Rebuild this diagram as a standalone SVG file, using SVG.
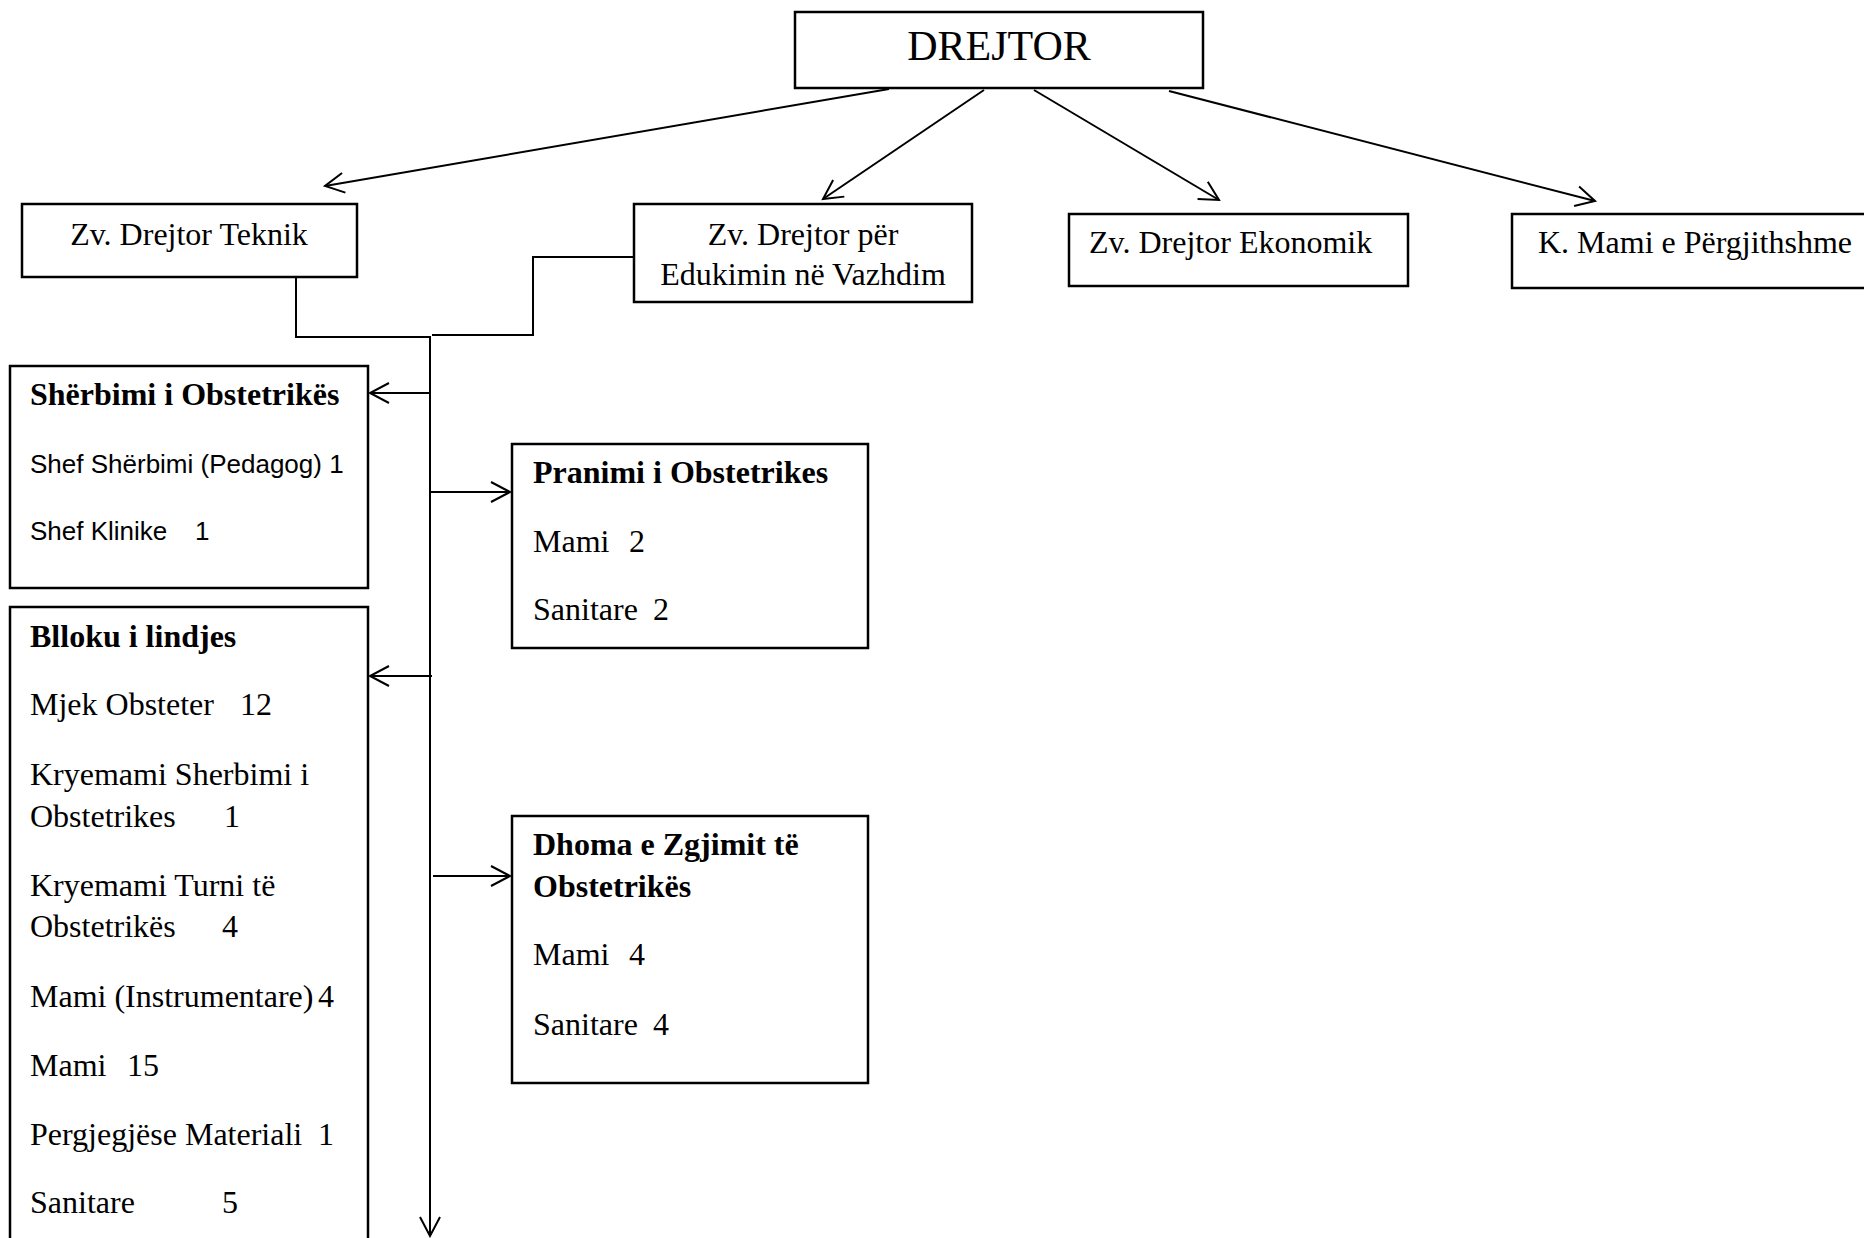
<svg xmlns="http://www.w3.org/2000/svg" width="1864" height="1238" viewBox="0 0 1864 1238">
<style>
.box{fill:#fff;stroke:#000;stroke-width:2.5}
.t{font-family:"Liberation Serif","Times New Roman",serif;font-size:32px;fill:#000}
.b{font-weight:bold}
.s{font-family:"Liberation Sans",Arial,sans-serif;font-size:26px;fill:#000}
.c{fill:none;stroke:#000;stroke-width:2}
</style>
<defs>
<marker id="arr" markerUnits="userSpaceOnUse" markerWidth="26" markerHeight="26" viewBox="-21 -13 24 26" refX="0" refY="0" orient="auto">
<path d="M-19,-10 L0,0 L-19,10" fill="none" stroke="#000" stroke-width="2"/>
</marker>
</defs>
<rect width="1864" height="1238" fill="#fff"/>
<g id="connectors">
<line class="c" x1="889" y1="89" x2="325" y2="186" marker-end="url(#arr)"/>
<line class="c" x1="984" y1="90" x2="823" y2="199" marker-end="url(#arr)"/>
<line class="c" x1="1034" y1="90" x2="1219" y2="200" marker-end="url(#arr)"/>
<line class="c" x1="1169" y1="91" x2="1595" y2="201" marker-end="url(#arr)"/>
<polyline class="c" points="296,277 296,337 430,337"/>
<polyline class="c" points="634,257 533,257 533,335 432,335"/>
<line class="c" x1="430" y1="336" x2="430" y2="1236" marker-end="url(#arr)"/>
<line class="c" x1="430" y1="393" x2="370" y2="393" marker-end="url(#arr)"/>
<line class="c" x1="430" y1="492" x2="510" y2="492" marker-end="url(#arr)"/>
<line class="c" x1="432" y1="676" x2="370" y2="676" marker-end="url(#arr)"/>
<line class="c" x1="433" y1="876" x2="510" y2="876" marker-end="url(#arr)"/>
</g>
<g id="drejtor">
<rect class="box" x="795" y="12" width="408" height="76"/>
<text class="t" x="999" y="60" text-anchor="middle" style="font-size:42px">DREJTOR</text>
</g>
<g id="zv-teknik">
<rect class="box" x="22" y="204" width="335" height="73"/>
<text class="t" x="189" y="245" text-anchor="middle">Zv. Drejtor Teknik</text>
</g>
<g id="zv-edukim">
<rect class="box" x="634" y="204" width="338" height="98"/>
<text class="t" x="803" y="245" text-anchor="middle">Zv. Drejtor për</text>
<text class="t" x="803" y="285" text-anchor="middle">Edukimin në Vazhdim</text>
</g>
<g id="zv-ekonomik">
<rect class="box" x="1069" y="214" width="339" height="72"/>
<text class="t" x="1089" y="253">Zv. Drejtor Ekonomik</text>
</g>
<g id="k-mami">
<rect class="box" x="1512" y="214" width="360" height="74"/>
<text class="t" x="1538" y="253">K. Mami e Përgjithshme</text>
</g>
<g id="sherbimi">
<rect class="box" x="10" y="366" width="358" height="222"/>
<text class="t b" x="30" y="405">Shërbimi i Obstetrikës</text>
<text class="s" x="30" y="473">Shef Shërbimi (Pedagog) 1</text>
<text class="s" x="30" y="540">Shef Klinike<tspan x="195">1</tspan></text>
</g>
<g id="pranimi">
<rect class="box" x="512" y="444" width="356" height="204"/>
<text class="t b" x="533" y="483">Pranimi i Obstetrikes</text>
<text class="t" x="533" y="552">Mami<tspan x="629">2</tspan></text>
<text class="t" x="533" y="620">Sanitare<tspan x="653">2</tspan></text>
</g>
<g id="blloku">
<rect class="box" x="10" y="607" width="358" height="640"/>
<text class="t b" x="30" y="647">Blloku i lindjes</text>
<text class="t" x="30" y="715">Mjek Obsteter<tspan x="240">12</tspan></text>
<text class="t" x="30" y="785">Kryemami Sherbimi i</text>
<text class="t" x="30" y="827">Obstetrikes<tspan x="224">1</tspan></text>
<text class="t" x="30" y="896">Kryemami Turni të</text>
<text class="t" x="30" y="937">Obstetrikës<tspan x="222">4</tspan></text>
<text class="t" x="30" y="1007">Mami (Instrumentare)<tspan x="318">4</tspan></text>
<text class="t" x="30" y="1076">Mami<tspan x="127">15</tspan></text>
<text class="t" x="30" y="1145">Pergjegjëse Materiali<tspan x="318">1</tspan></text>
<text class="t" x="30" y="1213">Sanitare<tspan x="222">5</tspan></text>
</g>
<g id="dhoma">
<rect class="box" x="512" y="816" width="356" height="267"/>
<text class="t b" x="533" y="855">Dhoma e Zgjimit të</text>
<text class="t b" x="533" y="897">Obstetrikës</text>
<text class="t" x="533" y="965">Mami<tspan x="629">4</tspan></text>
<text class="t" x="533" y="1035">Sanitare<tspan x="653">4</tspan></text>
</g>
</svg>
